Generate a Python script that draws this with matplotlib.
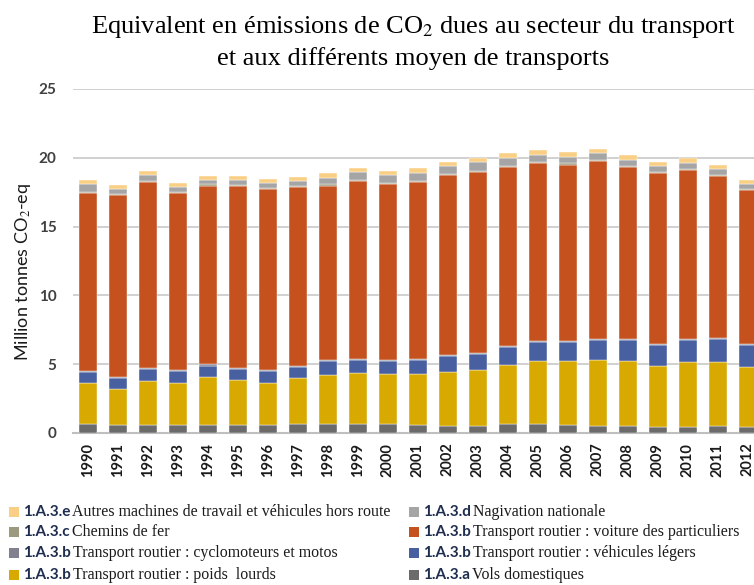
import matplotlib
matplotlib.use("Agg")
import matplotlib.pyplot as plt
import numpy as np
from matplotlib.patches import Rectangle

plt.rcParams['mathtext.fontset'] = 'stix'

SANS = ['Lato', 'DejaVu Sans']

years = [str(y) for y in range(1990, 2013)]

vols_domestiques = [0.66, 0.56, 0.61, 0.56, 0.56, 0.61, 0.56, 0.66, 0.66, 0.66, 0.63, 0.59,
                    0.54, 0.54, 0.63, 0.65, 0.59, 0.54, 0.54, 0.46, 0.46, 0.49, 0.44]
poids_lourds = [3.00, 2.66, 3.17, 3.10, 3.51, 3.22, 3.10, 3.32, 3.58, 3.71, 3.69, 3.73,
                3.92, 4.02, 4.32, 4.59, 4.61, 4.75, 4.70, 4.39, 4.71, 4.68, 4.34]
vehicules_legers = [0.77, 0.80, 0.87, 0.87, 0.83, 0.82, 0.87, 0.84, 0.97, 0.92, 0.94, 0.99,
                    1.12, 1.19, 1.29, 1.34, 1.43, 1.46, 1.51, 1.51, 1.58, 1.65, 1.63]
cyclomoteurs = [0.08] * 23
voitures = [12.93, 13.17, 13.49, 12.80, 13.00, 13.20, 13.12, 12.95, 12.69, 12.92, 12.73, 12.83,
            13.10, 13.12, 13.02, 12.95, 12.80, 12.93, 12.49, 12.44, 12.27, 11.76, 11.19]
chemins_de_fer = [0.08] * 23
navigation = [0.58, 0.41, 0.43, 0.36, 0.35, 0.38, 0.36, 0.36, 0.48, 0.58, 0.58, 0.63,
              0.57, 0.68, 0.58, 0.52, 0.48, 0.48, 0.45, 0.45, 0.45, 0.46, 0.34]
autres_machines = [0.27, 0.29, 0.29, 0.30, 0.27, 0.32, 0.29, 0.34, 0.34, 0.32, 0.32, 0.31,
                   0.30, 0.29, 0.32, 0.33, 0.32, 0.29, 0.32, 0.32, 0.32, 0.31, 0.27]

# stacking order bottom -> top
series = [
    ("1.A.3.a", "Vols domestiques", vols_domestiques, "#6b6b6b"),
    ("1.A.3.b", "Transport routier : poids  lourds", poids_lourds, "#d8a900"),
    ("1.A.3.b", "Transport routier : véhicules légers", vehicules_legers, "#485fa0"),
    ("1.A.3.b", "Transport routier : cyclomoteurs et motos", cyclomoteurs, "#80808f"),
    ("1.A.3.b", "Transport routier : voiture des particuliers", voitures, "#c5511f"),
    ("1.A.3.c", "Chemins de fer", chemins_de_fer, "#9c9a7e"),
    ("1.A.3.d", "Nagivation nationale", navigation, "#a5a5a5"),
    ("1.A.3.e", "Autres machines de travail et véhicules hors route", autres_machines, "#f9cf85"),
]

W, H = 754, 585
fig = plt.figure(figsize=(W / 100, H / 100), dpi=100)
left = 73 / W
bottom = 1 - 433 / H
top = 1 - 89 / H
width = (763 - 73) / W
ax = fig.add_axes([left, bottom, width, top - bottom])

x = np.arange(len(years))
base = np.zeros(len(years))
for code, desc, vals, col in series:
    v = np.array(vals)
    ax.bar(x, v, bottom=base, width=0.6, color=col, edgecolor='white', linewidth=0.3, zorder=3)
    base += v

ax.set_xlim(-0.5, len(years) - 0.5)
ax.set_ylim(0, 25)
ax.set_yticks([0, 5, 10, 15, 20, 25])
ax.yaxis.grid(True, color='#c8c8c8', linewidth=1.2, zorder=0)
for s in ['top', 'right', 'left']:
    ax.spines[s].set_visible(False)
ax.spines['bottom'].set_color('#bfbfbf')
ax.spines['bottom'].set_linewidth(1.5)
ax.tick_params(axis='both', length=0)
ax.tick_params(axis='y', pad=12)
ax.tick_params(axis='x', pad=7)
ax.set_xticks(x)
ax.set_xticklabels(years, rotation=90, fontsize=10.5, fontweight='bold',
                   family=SANS, color='#1a1a1a')
for lab in ax.get_yticklabels():
    lab.set_fontsize(11)
    lab.set_fontweight('bold')
    lab.set_family(SANS)
    lab.set_color('#404040')

fig.text(23 / W, 1 - 272 / H, r'Million tonnes CO$_2$-eq', rotation=90, ha='center', va='center',
         fontsize=13, family=SANS, color='#1a1a1a')

fig.text(413 / W, 1 - 27 / H, r'Equivalent en émissions de CO$_2$ dues au secteur du transport',
         ha='center', va='center', fontsize=19, family='Liberation Serif')
fig.text(413 / W, 1 - 59 / H, 'et aux différents moyen de transports',
         ha='center', va='center', fontsize=19, family='Liberation Serif')

# legend (manual, two columns, row-major from top of stack)
legend_order = list(reversed(series))
row_y = [512, 532, 553, 575]
col_x = [9, 409]
fig.canvas.draw()
renderer = fig.canvas.get_renderer()
for i, (code, desc, vals, col) in enumerate(legend_order):
    r, c = divmod(i, 2)
    yc = row_y[r]
    x0 = col_x[c]
    fig.patches.append(Rectangle((x0 / W, 1 - (yc + 5) / H), 10 / W, 10 / H,
                                 transform=fig.transFigure, facecolor=col, edgecolor='none'))
    t = fig.text((x0 + 14) / W, 1 - yc / H, code, ha='left', va='center', fontsize=11,
                 fontweight='bold', family=SANS, color='#1f2d4f')
    bb = t.get_window_extent(renderer)
    fig.text((bb.x1 + 2) / W, 1 - yc / H, desc, ha='left', va='center', fontsize=11.4,
             family='Liberation Serif', color='#1a1a1a')

fig.savefig('out.png', dpi=100)
